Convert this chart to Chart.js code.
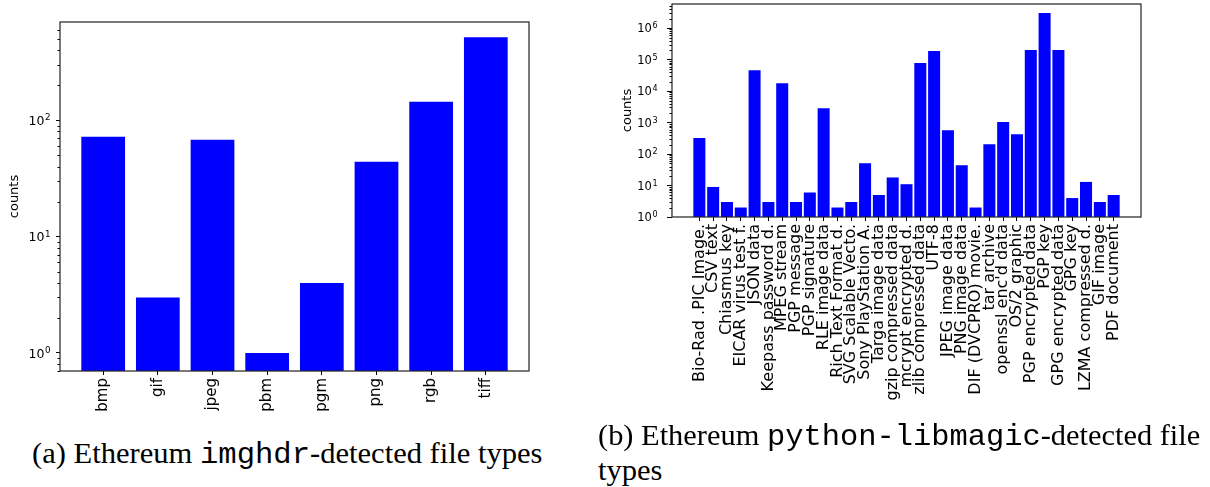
<!DOCTYPE html>
<html>
<head>
<meta charset="utf-8">
<script src="https://cdn.jsdelivr.net/npm/chart.js@4.4.1/dist/chart.umd.min.js"></script>
<style>
  html, body { margin: 0; padding: 0; background: #fff; width: 1210px; height: 487px; overflow: hidden; }
  canvas { position: absolute; }
  #c1 { left: 0; top: 0; }
  #c2 { left: 600px; top: 0; }
  .cap { position: absolute; white-space: nowrap; font-family: "Liberation Serif", "DejaVu Serif", serif; font-size: 29px; line-height: 1; color: #000; transform-origin: 0 0; }
  .tt { font-family: "Liberation Mono", "DejaVu Sans Mono", monospace; }
</style>
</head>
<body>
<canvas id="c1" width="560" height="420"></canvas>
<canvas id="c2" width="610" height="420"></canvas>
<div id="capA" class="cap" style="left:32px; top:439px;">(a) Ethereum <span class="tt">imghdr</span>-detected file types</div>
<div id="capB1" class="cap" style="left:598px; top:421px;">(b) Ethereum <span class="tt">python-libmagic</span>-detected file</div>
<div id="capB2" class="cap" style="left:598px; top:456px;">types</div>
<script>
// ---------- data ----------
const imgCategories = ['bmp', 'gif', 'jpeg', 'pbm', 'pgm', 'png', 'rgb', 'tiff'];
const imgCounts = [72, 3, 68, 1, 4, 44, 144, 517];
const imgYTicks = [1, 10, 100];

const magicCategories = [
  'Bio-Rad .PIC Image.', 'CSV text', 'Chiasmus key', 'EICAR virus test f.', 'JSON data',
  'Keepass password d.', 'MPEG stream', 'PGP message', 'PGP signature', 'RLE image data',
  'Rich Text Format d.', 'SVG Scalable Vecto.', 'Sony PlayStation A.', 'Targa image data',
  'gzip compressed data', 'mcrypt encrypted d.', 'zlib compressed data', 'UTF-8',
  'JPEG image data', 'PNG image data', 'DIF (DVCPRO) movie.', 'tar archive',
  "openssl enc'd data", 'OS/2 graphic', 'PGP encrypted data', 'PGP key',
  'GPG encrypted data', 'GPG key', 'LZMA compressed d.', 'GIF image', 'PDF document'
];
const magicCounts = [
  325, 9, 3, 2, 46000,
  3, 17800, 3, 6, 2860,
  2, 3, 51, 5,
  18, 11, 77000, 186000,
  571, 44, 2, 205,
  1030, 425, 200000, 3000000,
  200000, 4, 13, 3, 5
];
const magicYTicks = [1, 10, 100, 1000, 10000, 100000, 1000000];

// ---------- helpers ----------
function minorValues(min, max) {
  const out = [];
  for (let e = Math.floor(Math.log10(min)); e <= Math.ceil(Math.log10(max)); e++) {
    for (let m = 2; m <= 9; m++) {
      const v = m * Math.pow(10, e);
      if (v >= min && v <= max) out.push(v);
    }
  }
  return out;
}

const framePlugin = {
  id: 'frameMinor',
  afterDraw(chart, args, opts) {
    const {ctx, chartArea: a} = chart;
    const ys = chart.scales.y;
    ctx.save();
    // minor ticks
    ctx.strokeStyle = '#000';
    ctx.lineWidth = 1;
    for (const v of minorValues(ys.min, ys.max)) {
      const p = Math.round(ys.getPixelForValue(v)) + 0.5;
      ctx.beginPath();
      ctx.moveTo(a.left, p);
      ctx.lineTo(a.left - opts.minorLen, p);
      ctx.stroke();
    }
    // mathtext-style power labels 10^n
    const F = opts.labelFont;
    const fBase = F + 'px "DejaVu Sans"';
    const fExp = (F * 0.7) + 'px "DejaVu Sans"';
    ctx.fillStyle = '#000';
    ctx.textBaseline = 'alphabetic';
    ctx.textAlign = 'left';
    for (const t of ys.ticks) {
      const p = ys.getPixelForValue(t.value);
      const e = String(Math.round(Math.log10(t.value)));
      ctx.font = fBase;
      const wb = ctx.measureText('10').width;
      ctx.font = fExp;
      const we = ctx.measureText(e).width;
      const right = a.left - opts.labelGap;
      const x0 = right - wb - we;
      ctx.font = fBase;
      ctx.fillText('10', x0, p + 0.364 * F);
      ctx.font = fExp;
      ctx.fillText(e, x0 + wb + 0.5, p + 0.02 * F);
    }
    // frame
    ctx.strokeStyle = '#222';
    ctx.lineWidth = 1.2;
    ctx.strokeRect(a.left, a.top, a.right - a.left, a.bottom - a.top);
    ctx.restore();
  }
};

function makeChart(id, cats, counts, yTicks, cfg) {
  return new Chart(document.getElementById(id), {
    type: 'bar',
    data: {
      datasets: [{
        data: counts.map((v, i) => ({x: i, y: v})),
        backgroundColor: '#0000ff',
        borderWidth: 0,
        barPercentage: cfg.barPct,
        categoryPercentage: 1.0
      }]
    },
    options: {
      responsive: false,
      animation: false,
      devicePixelRatio: 1,
      layout: {padding: cfg.padding},
      plugins: {
        legend: {display: false},
        tooltip: {enabled: false},
        frameMinor: {minorLen: cfg.minorLen, labelFont: cfg.yFont, labelGap: cfg.labelGap}
      },
      scales: {
        x: {
          type: 'linear',
          offset: false,
          min: cfg.xMin,
          max: cfg.xMax,
          border: {display: false},
          grid: {drawOnChartArea: false, drawTicks: true, tickLength: 4, color: '#000', offset: false},
          afterBuildTicks: s => { s.ticks = cats.map((_, i) => ({value: i})); },
          afterFit: s => { s.height = cfg.xHeight; },
          ticks: {
            autoSkip: false,
            maxRotation: 90,
            minRotation: 90,
            padding: cfg.xPad,
            color: '#000',
            font: {family: 'DejaVu Sans', size: cfg.xFont},
            callback: v => cats[v]
          }
        },
        y: {
          type: 'logarithmic',
          min: cfg.yMin,
          max: cfg.yMax,
          border: {display: false},
          grid: {drawOnChartArea: false, drawTicks: true, tickLength: cfg.majorLen, color: '#000'},
          afterBuildTicks: s => { s.ticks = yTicks.map(v => ({value: v, major: true})); },
          afterFit: s => { s.width = cfg.yWidth; },
          title: {
            display: true,
            text: 'counts',
            color: '#000',
            font: {family: 'DejaVu Sans', size: cfg.titleFont},
            padding: {top: cfg.titlePad, bottom: 0}
          },
          ticks: {display: false, autoSkip: false}
        }
      }
    },
    plugins: [framePlugin]
  });
}

makeChart('c1', imgCategories, imgCounts, imgYTicks, {
  barPct: 0.8, xMin: -0.79, xMax: 7.79,
  padding: {top: 22, right: 31, left: 0, bottom: 0},
  xHeight: 49, yWidth: 60, yMin: 0.73, yMax: 698,
  xFont: 15, yFont: 12.5, titleFont: 13, titlePad: 7, xPad: 3, labelGap: 10,
  majorLen: 4, minorLen: 2.5
});

makeChart('c2', magicCategories, magicCounts, magicYTicks, {
  barPct: 0.87, xMin: -1.98, xMax: 31.98,
  padding: {top: 4, right: 69, left: 0, bottom: 0},
  xHeight: 203, yWidth: 72, yMin: 1, yMax: 5.8e6,
  xFont: 16, yFont: 11.5, titleFont: 13, titlePad: 20, xPad: 3, labelGap: 15,
  majorLen: 5, minorLen: 2.5
});

// ---------- captions: fit widths ----------
function fitCaptions() {
  const a = document.getElementById('capA');
  const b1 = document.getElementById('capB1');
  const b2 = document.getElementById('capB2');
  b1.style.wordSpacing = '0px';
  const sc = 510 / a.scrollWidth;
  a.style.transform = 'scaleX(' + sc + ')';
  b2.style.transform = 'scaleX(' + sc + ')';
  const nat = b1.scrollWidth * sc;
  const target = 602;
  if (nat < target) {
    b1.style.wordSpacing = ((target - nat) / 3 / sc) + 'px';
    b1.style.transform = 'scaleX(' + sc + ')';
  } else {
    b1.style.transform = 'scaleX(' + (target / b1.scrollWidth) + ')';
  }
}
fitCaptions();
if (document.fonts && document.fonts.ready) { document.fonts.ready.then(fitCaptions); }
</script>
</body>
</html>
